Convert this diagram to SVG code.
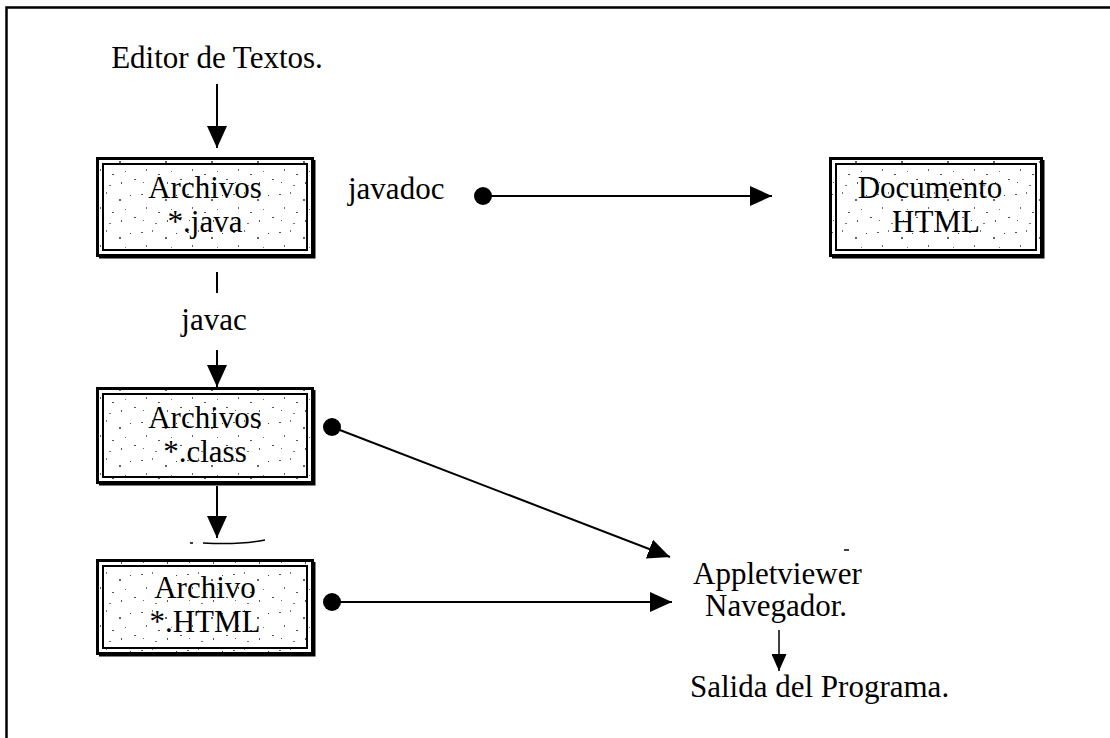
<svg xmlns="http://www.w3.org/2000/svg" width="1110" height="738" viewBox="0 0 1110 738">
  <defs>
    <marker id="head" markerUnits="userSpaceOnUse" markerWidth="22" markerHeight="20" refX="22" refY="10" orient="auto">
      <path d="M0,0 L22,10 L0,20 Z" fill="#000"/>
    </marker>
    <marker id="headSmall" markerUnits="userSpaceOnUse" markerWidth="17" markerHeight="15" refX="17" refY="7.5" orient="auto">
      <path d="M0,0 L17,7.5 L0,15 Z" fill="#000"/>
    </marker>
    <!-- stippled fill used inside the file boxes -->
    <pattern id="speckle" width="46" height="38" patternUnits="userSpaceOnUse">
      <rect x="3" y="4" width="2" height="1" fill="#555"/>
      <rect x="14" y="2" width="1" height="2" fill="#777"/>
      <rect x="27" y="9" width="2" height="2" fill="#666"/>
      <rect x="38" y="5" width="1" height="1" fill="#444"/>
      <rect x="8" y="17" width="1" height="2" fill="#666"/>
      <rect x="20" y="22" width="2" height="1" fill="#555"/>
      <rect x="33" y="19" width="1" height="1" fill="#777"/>
      <rect x="42" y="27" width="2" height="1" fill="#555"/>
      <rect x="5" y="30" width="1" height="1" fill="#666"/>
      <rect x="17" y="33" width="2" height="1" fill="#777"/>
      <rect x="29" y="30" width="1" height="2" fill="#555"/>
    </pattern>
  </defs>
  <style>
    .t { font-family: "Liberation Serif", "Times New Roman", serif; font-size: 31px; fill: #000; }
    .c { text-anchor: middle; }
    .outer { fill: url(#speckle); stroke: #000; stroke-width: 3; }
    .inner { fill: none; stroke: #000; stroke-width: 2; }
    .shadow { fill: none; stroke: #000; stroke-width: 3; }
    .wire { fill: none; stroke: #000; stroke-width: 2; }
    .dot { fill: #000; }
  </style>

  <rect width="1110" height="738" fill="#fff"/>

  <!-- page frame (top and left edges) -->
  <path d="M6.5,738 V7.5 H1110" fill="none" stroke="#000" stroke-width="2.5"/>

  <!-- source editor -->
  <g id="editor">
    <text class="t c" x="217" y="68">Editor de Textos.</text>
  </g>

  <!-- *.java source files -->
  <g id="java-files">
    <rect class="outer" x="97.5" y="158.5" width="215" height="97"/>
    <rect class="inner" x="103" y="164" width="204" height="86"/>
    <path class="shadow" d="M314,160 V257 H99"/>
    <text class="t c" x="205" y="198">Archivos</text>
    <text class="t c" x="205" y="232">*.java</text>
  </g>

  <!-- javadoc label -->
  <g id="javadoc-label">
    <text class="t" x="348" y="199">javadoc</text>
  </g>

  <!-- generated HTML documentation -->
  <g id="html-doc">
    <rect class="outer" x="830.5" y="158.5" width="211" height="97"/>
    <rect class="inner" x="836" y="164" width="200" height="86"/>
    <path class="shadow" d="M1043,160 V257 H832"/>
    <text class="t c" x="930" y="198">Documento</text>
    <text class="t c" x="936" y="232">HTML</text>
  </g>

  <!-- javac label -->
  <g id="javac-label">
    <text class="t c" x="214" y="330">javac</text>
  </g>

  <!-- *.class bytecode files -->
  <g id="class-files">
    <rect class="outer" x="97.5" y="388.5" width="215" height="94"/>
    <rect class="inner" x="103" y="394" width="204" height="83"/>
    <path class="shadow" d="M314,390 V484 H99"/>
    <text class="t c" x="205" y="428">Archivos</text>
    <text class="t c" x="205" y="462">*.class</text>
  </g>

  <!-- *.HTML page -->
  <g id="html-file">
    <rect class="outer" x="97.5" y="560.5" width="215" height="93"/>
    <rect class="inner" x="103" y="566" width="204" height="82"/>
    <path class="shadow" d="M314,562 V655 H99"/>
    <text class="t c" x="205" y="598">Archivo</text>
    <text class="t c" x="205" y="632">*.HTML</text>
  </g>

  <!-- viewer / browser -->
  <g id="viewer">
    <text class="t" x="693" y="584">Appletviewer</text>
    <text class="t" x="705" y="616">Navegador.</text>
  </g>

  <!-- program output -->
  <g id="output">
    <text class="t" x="690" y="697">Salida del Programa.</text>
  </g>

  <!-- connectors -->
  <g id="connectors">
    <line class="wire" x1="217" y1="84" x2="217" y2="148" marker-end="url(#head)"/>
    <circle class="dot" cx="483" cy="196" r="9"/>
    <line class="wire" x1="483" y1="196" x2="772" y2="196" marker-end="url(#head)"/>
    <line class="wire" x1="217" y1="272" x2="217" y2="293"/>
    <line class="wire" x1="217" y1="350" x2="217" y2="387" marker-end="url(#head)"/>
    <circle class="dot" cx="332" cy="427" r="9"/>
    <line class="wire" x1="332" y1="427" x2="670" y2="557" marker-end="url(#head)"/>
    <line class="wire" x1="217" y1="486" x2="217" y2="538" marker-end="url(#head)"/>
    <path d="M190,543 H193 M203,543 Q240,545 265,540" fill="none" stroke="#000" stroke-width="1.5"/>
    <circle class="dot" cx="332" cy="602" r="9"/>
    <line class="wire" x1="332" y1="602" x2="672" y2="602" marker-end="url(#head)"/>
    <line x1="779" y1="630" x2="779" y2="671" stroke="#000" stroke-width="1.5" marker-end="url(#headSmall)"/>
    <line x1="844" y1="550" x2="849" y2="550" stroke="#000" stroke-width="1.5"/>
  </g>
</svg>
